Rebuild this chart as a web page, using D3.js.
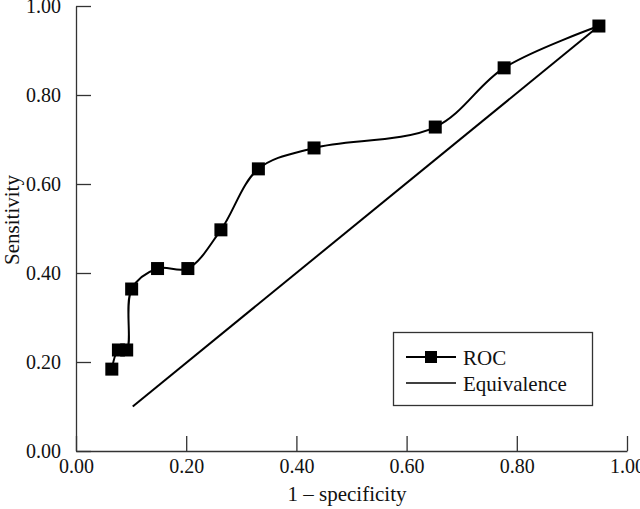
<!DOCTYPE html>
<html>
<head>
<meta charset="utf-8">
<script src="https://cdn.jsdelivr.net/npm/d3@7"></script>
<style>
  body { margin: 0; background: #fff; }
  svg { display: block; }
  text { font-family: "Liberation Serif", "Times New Roman", serif; fill: #111; }
</style>
</head>
<body>
<svg id="chart"></svg>
<script>
// ROC points
let rocX = [0.065, 0.077, 0.092, 0.101, 0.148, 0.203, 0.263, 0.331, 0.432, 0.652, 0.777, 0.949]
let rocY = [0.184, 0.227, 0.227, 0.364, 0.410, 0.410, 0.497, 0.634, 0.681, 0.728, 0.861, 0.955]

// equivalence line
let eqX = [0.103, 0.949]
let eqY = [0.100, 0.955]

let tickValues = [0, 0.2, 0.4, 0.6, 0.8, 1.0]

let width = 640
let height = 509
let padLeft = 76, padRight = 627, padTop = 6, padBottom = 451

let svg = d3.select("#chart")
    .attr("width", width)
    .attr("height", height)

let xScale = d3.scaleLinear().domain([0, 1]).range([padLeft, padRight])
let yScale = d3.scaleLinear().domain([0, 1]).range([padBottom, padTop])

let drawAxes = () => {
    let xAxis = d3.axisBottom(xScale)
        .tickValues(tickValues)
        .tickFormat(d3.format(".2f"))
        .tickSizeInner(-15)
        .tickSizeOuter(0)
        .tickPadding(8)

    let yAxis = d3.axisLeft(yScale)
        .tickValues(tickValues)
        .tickFormat(d3.format(".2f"))
        .tickSizeInner(-15)
        .tickSizeOuter(0)
        .tickPadding(15)

    let gx = svg.append("g")
        .attr("transform", "translate(0," + padBottom + ")")
        .call(xAxis)
    let gy = svg.append("g")
        .attr("transform", "translate(" + padLeft + ",0)")
        .call(yAxis)

    for (let g of [gx, gy]) {
        g.attr("font-family", null).attr("font-size", null)
        g.selectAll("path, line").attr("stroke", "#333").attr("stroke-width", 1.3)
        g.selectAll("text")
            .attr("font-size", 20)
            .attr("fill", "#111")
    }

    svg.append("text")
        .attr("x", 347)
        .attr("y", 501)
        .attr("text-anchor", "middle")
        .attr("font-size", 21)
        .text("1 \u2013 specificity")

    svg.append("text")
        .attr("transform", "translate(19,220) rotate(-90)")
        .attr("text-anchor", "middle")
        .attr("font-size", 21)
        .text("Sensitivity")
}

let drawLines = () => {
    let rocData = rocX.map((d, i) => [d, rocY[i]])
    let eqData = eqX.map((d, i) => [d, eqY[i]])

    let line = d3.line()
        .x(d => xScale(d[0]))
        .y(d => yScale(d[1]))

    svg.append("path")
        .datum(eqData)
        .attr("d", line)
        .attr("fill", "none")
        .attr("stroke", "#000")
        .attr("stroke-width", 2)

    svg.append("path")
        .datum(rocData)
        .attr("d", line.curve(d3.curveCatmullRom.alpha(0.5)))
        .attr("fill", "none")
        .attr("stroke", "#000")
        .attr("stroke-width", 2)

    let size = 13
    svg.selectAll("rect.pt")
        .data(rocData)
        .enter()
        .append("rect")
        .attr("class", "pt")
        .attr("x", d => xScale(d[0]) - size / 2)
        .attr("y", d => yScale(d[1]) - size / 2)
        .attr("width", size)
        .attr("height", size)
        .attr("fill", "#000")
}

let drawLegend = () => {
    let g = svg.append("g")
    g.append("rect")
        .attr("x", 393.5).attr("y", 332.5)
        .attr("width", 199).attr("height", 73)
        .attr("fill", "#fff")
        .attr("stroke", "#333")
        .attr("stroke-width", 1.3)

    g.append("line")
        .attr("x1", 406).attr("x2", 456)
        .attr("y1", 357).attr("y2", 357)
        .attr("stroke", "#000").attr("stroke-width", 2)
    g.append("rect")
        .attr("x", 425).attr("y", 351)
        .attr("width", 12).attr("height", 12)
        .attr("fill", "#000")
    g.append("text")
        .attr("x", 463).attr("y", 365)
        .attr("font-size", 21)
        .text("ROC")

    g.append("line")
        .attr("x1", 406).attr("x2", 456)
        .attr("y1", 383).attr("y2", 383)
        .attr("stroke", "#000").attr("stroke-width", 1.5)
    g.append("text")
        .attr("x", 463).attr("y", 391)
        .attr("font-size", 21)
        .text("Equivalence")
}

drawAxes()
drawLines()
drawLegend()
</script>
</body>
</html>
